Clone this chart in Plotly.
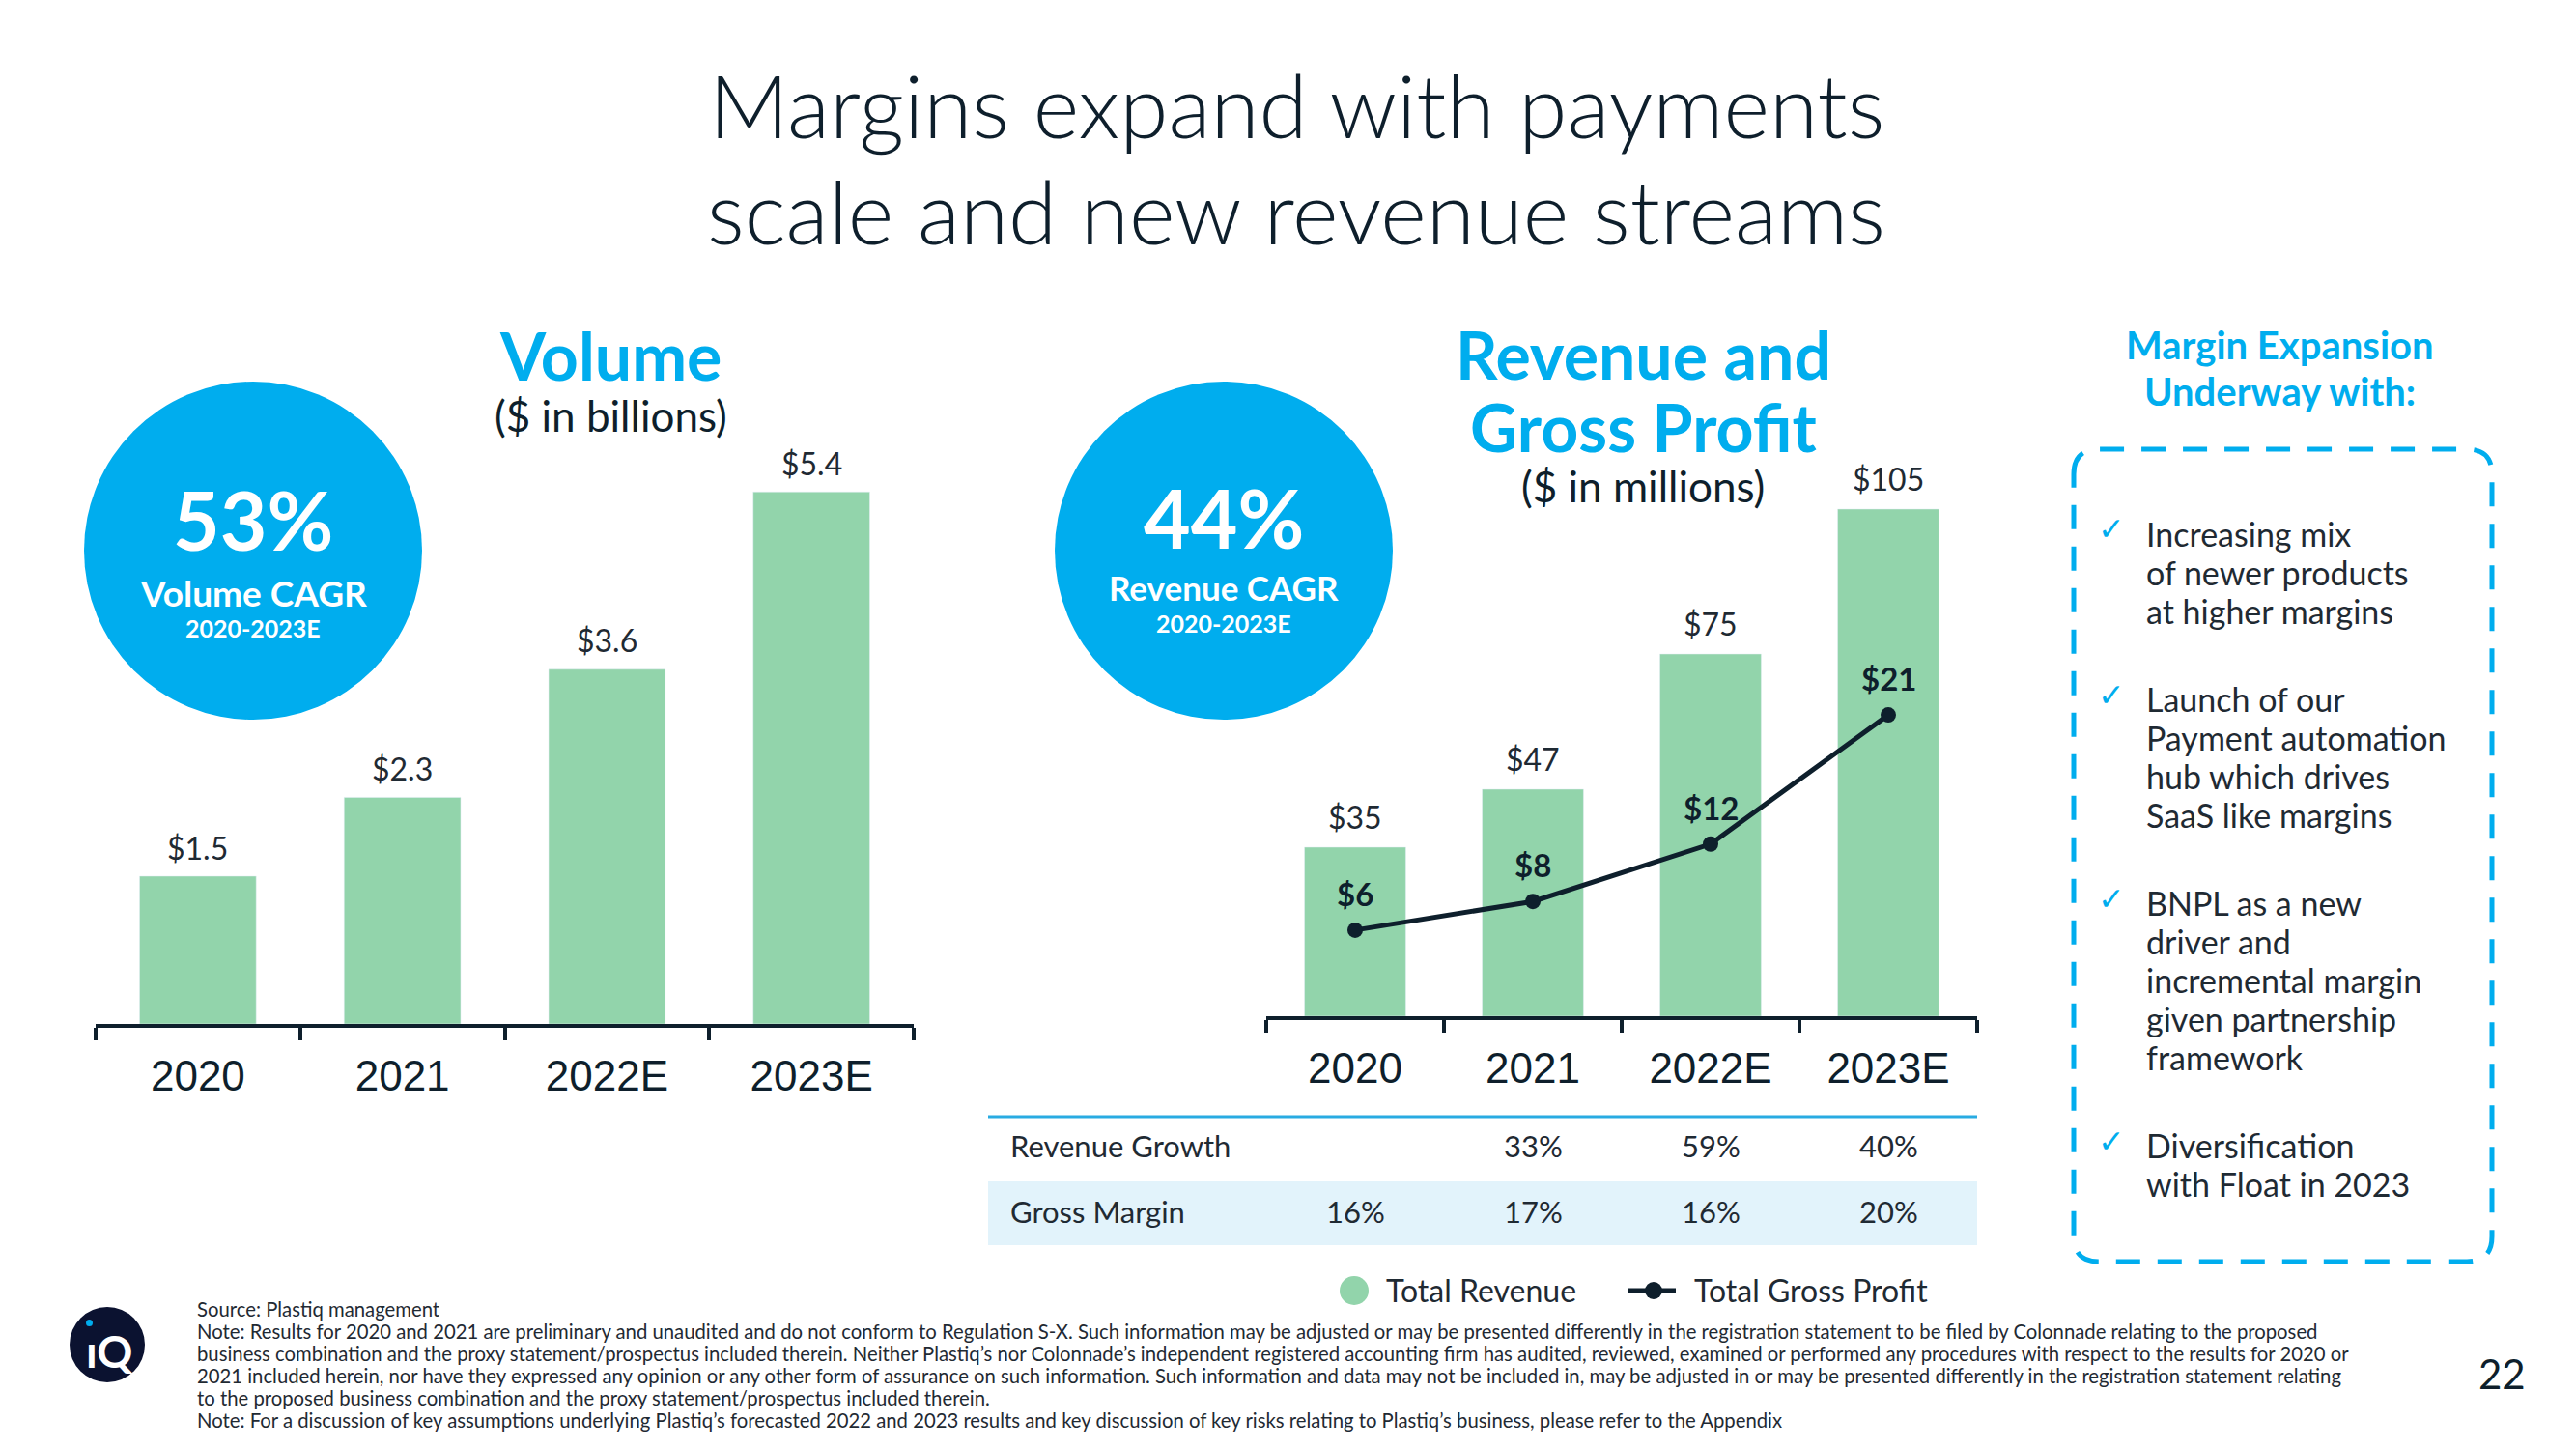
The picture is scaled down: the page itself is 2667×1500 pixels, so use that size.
import plotly.graph_objects as go

W, H = 2667, 1500

# ---------------- data ----------------
years = ["2020", "2021", "2022E", "2023E"]
volume = [1.5, 2.3, 3.6, 5.4]
volume_labels = ["$1.5", "$2.3", "$3.6", "$5.4"]
revenue = [35, 47, 75, 105]
revenue_labels = ["$35", "$47", "$75", "$105"]
gross_profit = [6, 8, 12, 21]
gross_profit_labels = ["$6", "$8", "$12", "$21"]
revenue_growth = ["", "33%", "59%", "40%"]
gross_margin = ["16%", "17%", "16%", "20%"]

bullets = [
    ["Increasing mix", "of newer products", "at higher margins"],
    ["Launch of our", "Payment automation", "hub which drives", "SaaS like margins"],
    ["BNPL as a new", "driver and", "incremental margin", "given partnership", "framework"],
    ["Diversification", "with Float in 2023"],
]
footer_lines = [
    "Source: Plastiq management",
    "Note: Results for 2020 and 2021 are preliminary and unaudited and do not conform to Regulation S-X. Such information may be adjusted or may be presented differently in the registration statement to be filed by Colonnade relating to the proposed",
    "business combination and the proxy statement/prospectus included therein. Neither Plastiq\u2019s nor Colonnade\u2019s independent registered accounting firm has audited, reviewed, examined or performed any procedures with respect to the results for 2020 or",
    "2021 included herein, nor have they expressed any opinion or any other form of assurance on such information. Such information and data may not be included in, may be adjusted in or may be presented differently in the registration statement relating",
    "to the proposed business combination and the proxy statement/prospectus included therein.",
    "Note: For a discussion of key assumptions underlying Plastiq\u2019s forecasted 2022 and 2023 results and key discussion of key risks relating to Plastiq\u2019s business, please refer to the Appendix",
]

# ---------------- styles ----------------
BLUE = "#00ADEE"
GREEN = "#92D4AB"
NAVY = "#0E1F2C"
TEXT = "#1F2A33"
FONT = "Lato"


def px(x):
    return x / W


def py(y):
    return 1 - y / H


fig = go.Figure()

fig.add_trace(go.Bar(x=years, y=volume, marker_color=GREEN, width=0.57,
                     xaxis="x", yaxis="y", showlegend=False, hoverinfo="skip"))
fig.add_trace(go.Bar(x=years, y=revenue, marker_color=GREEN, width=0.57,
                     xaxis="x2", yaxis="y2", showlegend=False, hoverinfo="skip"))
fig.add_trace(go.Scatter(x=years, y=gross_profit, mode="lines+markers",
                         line=dict(color=NAVY, width=5),
                         marker=dict(color=NAVY, size=16),
                         xaxis="x2", yaxis="y3", showlegend=False, hoverinfo="skip"))

ann = []
shapes = []


def text(x, y, t, size, color=TEXT, bold=False, xanchor="center", family=FONT, weight=None):
    w = weight if weight is not None else ("bold" if bold else "normal")
    ann.append(dict(x=px(x), y=py(y), xref="paper", yref="paper", text=t,
                    showarrow=False, xanchor=xanchor, yanchor="middle",
                    font=dict(size=size, color=color, family=family, weight=w)))


# value labels through data coordinates (category index on x)
for i, (v, lab) in enumerate(zip(volume, volume_labels)):
    ann.append(dict(x=i, y=v, xref="x", yref="y", text=lab, showarrow=False,
                    yanchor="middle", yshift=30,
                    font=dict(size=32, color=TEXT, family=FONT)))
for i, (v, lab) in enumerate(zip(revenue, revenue_labels)):
    ann.append(dict(x=i, y=v, xref="x2", yref="y2", text=lab, showarrow=False,
                    yanchor="middle", yshift=32,
                    font=dict(size=32, color=TEXT, family=FONT)))
for i, (v, lab) in enumerate(zip(gross_profit, gross_profit_labels)):
    ann.append(dict(x=i, y=v, xref="x2", yref="y3", text=lab, showarrow=False,
                    yanchor="middle", yshift=38,
                    font=dict(size=33, color=NAVY, family=FONT, weight="bold")))

# table
shapes.append(dict(type="rect", xref="paper", yref="paper", x0=px(1023), x1=px(2047),
                   y0=py(1289), y1=py(1223), fillcolor="#E2F3FB", line_width=0, layer="below"))
shapes.append(dict(type="line", xref="paper", yref="paper", x0=px(1023), x1=px(2047),
                   y0=py(1156), y1=py(1156), line=dict(color="#29ABE2", width=3)))
text(1044, 1186, "Revenue Growth", 31, xanchor="left")
text(1044, 1254, "Gross Margin", 31, xanchor="left")
for i, (g, m) in enumerate(zip(revenue_growth, gross_margin)):
    if g:
        ann.append(dict(x=i, y=py(1186), xref="x2", yref="paper", text=g, showarrow=False,
                        yanchor="middle", font=dict(size=31, color=TEXT, family=FONT)))
    ann.append(dict(x=i, y=py(1254), xref="x2", yref="paper", text=m, showarrow=False,
                    yanchor="middle", font=dict(size=31, color=TEXT, family=FONT)))

# legend
shapes.append(dict(type="circle", xref="paper", yref="paper", x0=px(1387), x1=px(1417),
                   y0=py(1351), y1=py(1321), fillcolor=GREEN, line_width=0))
text(1433, 1335, "Total Revenue", 32, xanchor="left")
shapes.append(dict(type="line", xref="paper", yref="paper", x0=px(1685), x1=px(1735),
                   y0=py(1336), y1=py(1336), line=dict(color=NAVY, width=5)))
shapes.append(dict(type="circle", xref="paper", yref="paper", x0=px(1703), x1=px(1721),
                   y0=py(1345), y1=py(1327), fillcolor=NAVY, line_width=0))
text(1752, 1335, "Total Gross Profit", 32, xanchor="left")

# title
text(1342, 108, "Margins expand with payments", 91, color=NAVY, weight=300)
text(1342, 218, "scale and new revenue streams", 91, color=NAVY, weight=300)

# headers
text(632, 368, "Volume", 68, color=BLUE, bold=True)
text(632, 430, "($ in billions)", 44, color=NAVY)
text(1701, 366, "Revenue and", 68, color=BLUE, bold=True)
text(1701, 442, "Gross Profit", 68, color=BLUE, bold=True)
text(1701, 503, "($ in millions)", 44, color=NAVY)

# CAGR circles
for cx, big, lab, labsize, ys in [
    (262, "53%", "Volume CAGR", 37, (537, 613, 650)),
    (1267, "44%", "Revenue CAGR", 35, (536, 608, 645)),
]:
    shapes.append(dict(type="circle", xref="paper", yref="paper", x0=px(cx - 175), x1=px(cx + 175),
                       y0=py(570 + 175), y1=py(570 - 175), fillcolor=BLUE, line_width=0))
    text(cx, ys[0], big, 84, color="white", bold=True)
    text(cx, ys[1], lab, labsize, color="white", bold=True)
    text(cx, ys[2], "2020-2023E", 25, color="white", bold=True)

# right panel
text(2360, 357, "Margin Expansion", 40, color=BLUE, bold=True)
text(2360, 405, "Underway with:", 40, color=BLUE, bold=True)
L, R, T, B, r = 2147, 2580, 465, 1306, 26
path = (f"M {px(L)},{py(T + r)} Q {px(L)},{py(T)} {px(L + r)},{py(T)} "
        f"L {px(R - r)},{py(T)} Q {px(R)},{py(T)} {px(R)},{py(T + r)} "
        f"L {px(R)},{py(B - r)} Q {px(R)},{py(B)} {px(R - r)},{py(B)} "
        f"L {px(L + r)},{py(B)} Q {px(L)},{py(B)} {px(L)},{py(B - r)} Z")
shapes.append(dict(type="path", xref="paper", yref="paper", path=path,
                   line=dict(color=BLUE, width=5, dash="25px,18px")))
bullet_baselines = [564, 735, 946, 1197]
for base, lines in zip(bullet_baselines, bullets):
    text(2186, base - 16, "\u2713", 33, color=BLUE, family="DejaVu Sans")
    for i, line in enumerate(lines):
        text(2220, base + 40 * i - 12, line, 34, color=TEXT, xanchor="left")

# footer
for i, line in enumerate(footer_lines):
    text(202, 1355 + 23 * i, line, 20.3, color=TEXT, xanchor="left")
text(2590, 1422, "22", 42, color=NAVY)

# logo
shapes.append(dict(type="circle", xref="paper", yref="paper", x0=px(72), x1=px(150),
                   y0=py(1431), y1=py(1353), fillcolor="#0B1230", line_width=0))
text(113, 1398, "\u0131Q", 46, color="white", bold=True)
shapes.append(dict(type="circle", xref="paper", yref="paper", x0=px(89), x1=px(96),
                   y0=py(1373), y1=py(1366), fillcolor=BLUE, line_width=0))

axis_common = dict(type="category", showline=True, linecolor=NAVY, linewidth=4,
                   ticks="outside", tickson="boundaries", ticklen=13, tickwidth=4,
                   tickcolor=NAVY, showgrid=False, zeroline=False, fixedrange=True,
                   tickfont=dict(family="Liberation Sans", size=44, color=NAVY),
                   ticklabelstandoff=12, range=[-0.5, 3.5])
yaxis_common = dict(showgrid=False, zeroline=False, showticklabels=False,
                    showline=False, ticks="", fixedrange=True)

fig.update_layout(
    width=W, height=H, margin=dict(l=0, r=0, t=0, b=0),
    paper_bgcolor="white", plot_bgcolor="white",
    font=dict(family=FONT, color=TEXT),
    xaxis=dict(domain=[px(99), px(946)], anchor="y", **axis_common),
    yaxis=dict(domain=[py(1060), py(448)], range=[0, 6], anchor="x", **yaxis_common),
    xaxis2=dict(domain=[px(1311), px(2047)], anchor="y2", **axis_common),
    yaxis2=dict(domain=[py(1052), py(452)], range=[0, 120], anchor="x2", **yaxis_common),
    yaxis3=dict(domain=[py(1052), py(452)], range=[0, 40.4], anchor="x2",
                overlaying="y2", **yaxis_common),
    annotations=ann, shapes=shapes, bargap=0.43,
)

fig.write_html("out.html", config={"displayModeBar": False},
               post_script="document.body.style.margin='0';")
